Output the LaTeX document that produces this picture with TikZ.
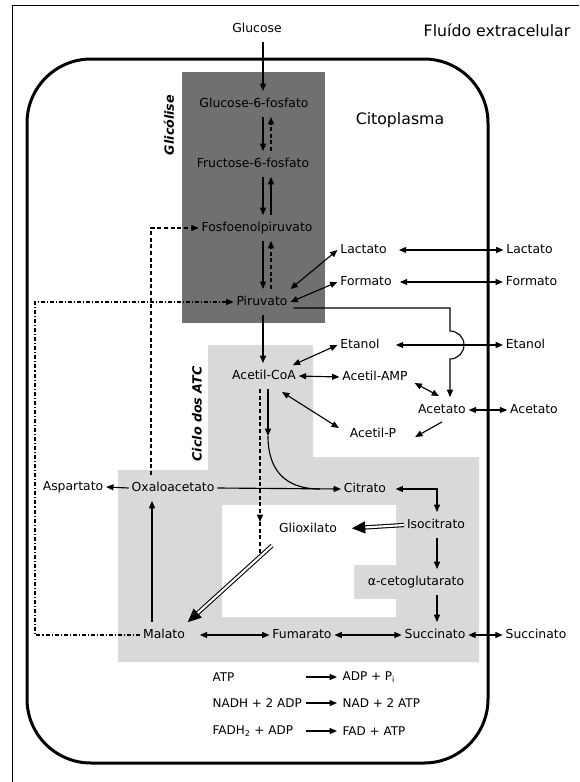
\documentclass[tikz,border=0pt]{standalone}
\usepackage{fontspec}
\setmainfont{DejaVu Sans}
\usetikzlibrary{arrows.meta,calc}
\definecolor{dkgray}{RGB}{112,112,112}
\definecolor{ltgray}{RGB}{217,217,217}
\begin{document}
\begin{tikzpicture}[x=0.75pt,y=-0.75pt,
  lbl/.style={font=\fontsize{9.3}{11}\selectfont, inner xsep=2pt, inner ysep=0pt, text height=7pt, text depth=2pt, minimum height=19pt},
  big/.style={font=\fontsize{11.8}{14}\selectfont, inner sep=1pt},
  side/.style={font=\fontsize{9.5}{11}\selectfont\bfseries\itshape, rotate=90, inner sep=1pt},
  eq/.style={font=\fontsize{9}{11}\selectfont, inner sep=1pt, anchor=west},
  >={Triangle[length=5.5pt,width=4.5pt]},
  ln/.style={line width=0.85pt},
  arr/.style={ln,->},
  barr/.style={ln,<->},
  dsh/.style={dash pattern=on 3pt off 2pt},
  dshdot/.style={dash pattern=on 3pt off 1.5pt on 0.8pt off 1.5pt},
  dbl/.style={double, double distance=1.6pt, line width=0.8pt, -{Triangle[length=10pt,width=9pt]}},
]
\useasboundingbox (0,0) rectangle (579,782);
\fill[white] (0,0) rectangle (579,782);
\draw[line width=0.75pt] (12,782) -- (12,5.5) -- (579,5.5);

% regions
\fill[ltgray] (208,345) -- (313,345) -- (313,457) -- (479,457) -- (479,662) -- (118,662) -- (118,470) -- (208,470) -- cycle;
\fill[white] (222,505) -- (396,505) -- (396,565) -- (354,565) -- (354,599) -- (396,599) -- (396,617) -- (222,617) -- cycle;
\fill[dkgray] (182,72) rectangle (325,323);
\draw[line width=2.25pt, rounded corners=48pt] (27,59) rectangle (488,763);

% labels
\node[big] (fluido) at (497,30) {Fluído extracelular};
\node[big] (citop) at (400,120) {Citoplasma};
\node[side] (glic) at (169,125) {Glicólise};
\node[side] (ciclo) at (197,414) {Ciclo dos ATC};

% metabolites
\node[lbl] (glc) at (257,29) {Glucose};
\node[lbl] (g6p) at (254,104) {Glucose-6-fosfato};
\node[lbl] (f6p) at (253,164) {Fructose-6-fosfato};
\node[lbl] (pep) at (257,228) {Fosfoenolpiruvato};
\node[lbl] (pir) at (262,302) {Piruvato};
\node[lbl] (acoa) at (264,376) {Acetil-CoA};
\node[lbl] (lacI) at (363.5,250) {Lactato};
\node[lbl] (lacE) at (529.5,250) {Lactato};
\node[lbl] (forI) at (366,282) {Formato};
\node[lbl] (forE) at (531.5,282) {Formato};
\node[lbl] (etI) at (360,345) {Etanol};
\node[lbl] (etE) at (525.5,345) {Etanol};
\node[lbl] (aamp) at (375,377) {Acetil-AMP};
\node[lbl] (acet) at (442,410) {Acetato};
\node[lbl] (acetE) at (534,410) {Acetato};
\node[lbl] (acp) at (373,434) {Acetil-P};
\node[lbl] (oxa) at (173,488) {Oxaloacetato};
\node[lbl] (asp) at (73,487) {Aspartato};
\node[lbl] (cit) at (365,489) {Citrato};
\node[lbl] (iso) at (436,525) {Isocitrato};
\node[lbl] (gli) at (308,529) {Glioxilato};
\node[lbl] (akg) at (416,582) {α-cetoglutarato};
\node[lbl] (suc) at (435,635) {Succinato};
\node[lbl] (sucE) at (536,635) {Succinato};
\node[lbl] (fum) at (302,635) {Fumarato};
\node[lbl] (mal) at (164,635) {Malato};

% equations
\node[eq] (e1l) at (211,677) {ATP};
\node[eq] (e1r) at (341,677) {ADP + P\textsubscript{i}};
\node[eq] (e2l) at (211,703) {NADH + 2 ADP};
\node[eq] (e2r) at (341,703) {NAD + 2 ATP};
\node[eq] (e3l) at (211,731) {FADH\textsubscript{2} + ADP};
\node[eq] (e3r) at (341,731) {FAD + ATP};

% helper positions
\coordinate (xd) at (263,0);
\coordinate (xu) at (271,0);
\coordinate (xeq) at (306,0);
\coordinate (xdash) at (151,0);
\coordinate (xdd) at (35,0);
\coordinate (xhop) at (450,0);
\coordinate (xr) at (437,0);
\coordinate (xm) at (152,0);
\coordinate (xg) at (260,0);
\coordinate (xcm) at (320,0);
\coordinate (mid) at (268,436);
\coordinate (dtip) at (260,522);
\coordinate (dj) at (260,553);
\coordinate (ps) at ($(pir.east)+(3,6)$);

% glycolysis
\draw[arr] (glc.south -| xd) -- (g6p.north -| xd);
\draw[arr] (g6p.south -| xd) -- (f6p.north -| xd);
\draw[arr,dsh] (f6p.north -| xu) -- (g6p.south -| xu);
\draw[arr] (f6p.south -| xd) -- (pep.north -| xd);
\draw[arr] (pep.north -| xu) -- (f6p.south -| xu);
\draw[arr] (pep.south -| xd) -- (pir.north -| xd);
\draw[arr,dsh] (pir.north -| xu) -- (pep.south -| xu);
\draw[arr] (pir.south -| xd) -- (acoa.north -| xd);

% pyruvate branches
\draw[barr] (pir.north east) -- (lacI.west);
\draw[barr] (pir.east) -- (forI.west);
\draw[arr] (ps) -- (ps -| xhop) -- (450,331)
  arc[start angle=-90, end angle=90, radius=14] -- (acet.north -| xhop);

% exchange with outside
\draw[barr, shorten <=7pt] (lacI.east) -- (lacE.west);
\draw[barr, shorten <=4pt] (forI.east) -- (forE.west);
\draw[barr, shorten <=10pt] (etI.east) -- (etE.west);
\draw[barr] (acet.east) -- (acetE.west);
\draw[barr] (suc.east) -- (sucE.west);

% acetyl-CoA branches
\draw[barr] ($(acoa.north east)+(-6,2)$) -- (etI.west);
\draw[barr] (acoa.east) -- (aamp.west);
\draw[barr] ($(acoa.south)+(18,3)$) -- ($(acp.west)+(-8,-6)$);
\draw[barr] ($(aamp.east)+(4,6)$) -- ($(acet.north)+(-3,-1)$);
\draw[arr] ($(acet.south)+(0,-1)$) -- ($(acp.east)+(16,3)$);

% acetyl-CoA into cycle
\draw[arr] (acoa.south -| mid) -- (mid);
\draw[ln] (mid) .. controls (268,470) and (285,489) .. (cit.west -| xcm);
\draw[arr,dsh] (acoa.south -| xg) -- (dtip);
\draw[ln,dsh] (dtip) -- (dj);

% TCA cycle
\draw[arr] (oxa.east) -- (cit.west);
\draw[arr] (oxa.west) -- (asp.east);
\draw[barr, shorten <=5pt] (cit.east) -- (cit.east -| xr) -- (iso.north -| xr);
\draw[arr] (iso.south -| xr) -- (akg.north -| xr);
\draw[arr] (akg.south -| xr) -- (suc.north -| xr);
\draw[barr] (fum.east) -- (suc.west);
\draw[barr, shorten <=9pt] (mal.east) -- (fum.west);
\draw[arr] (mal.north -| xm) -- (oxa.south -| xm);
\draw[dbl, shorten >=9pt] (iso.west) -- (gli.east);
\draw[dbl, shorten <=4pt] (gli.south west) -- (mal.north east);

% dashed links on the left
\draw[arr,dsh] (oxa.north -| xdash) -- (pep.west -| xdash) -- (pep.west);
\draw[arr,dshdot] (mal.west) -- (mal.west -| xdd) -- (pir.west -| xdd) -- (pir.west);

% equation arrows
\draw[arr, shorten >=3pt] (e1l.east -| xeq) -- (e1r.west);
\draw[arr, shorten >=3pt] (e2l.east -| xeq) -- (e2r.west);
\draw[arr, shorten >=3pt] (e3l.east -| xeq) -- (e3r.west);
\end{tikzpicture}
\end{document}
